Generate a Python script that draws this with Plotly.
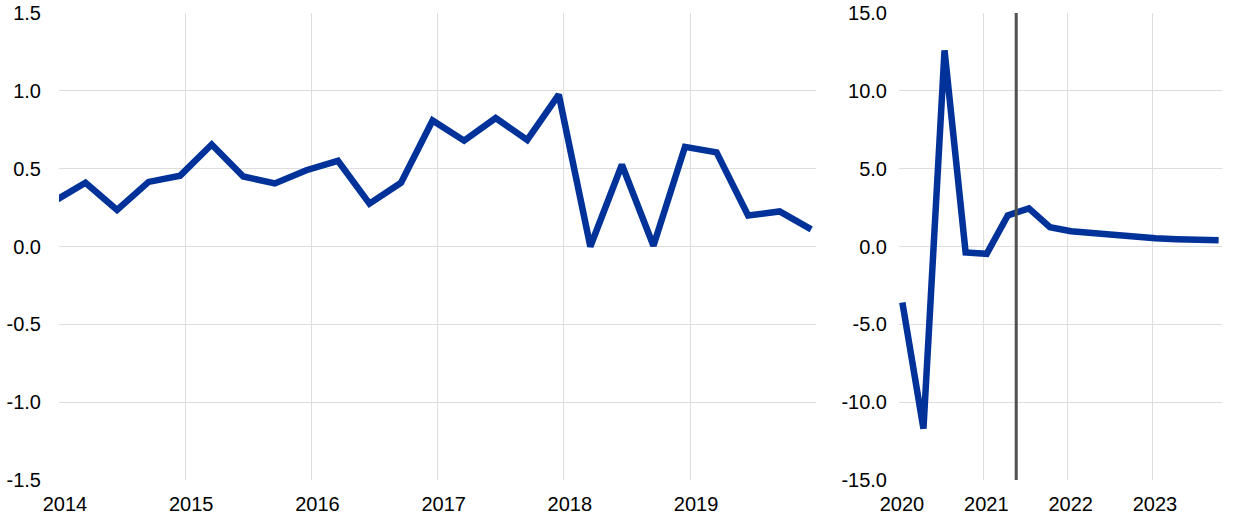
import plotly.graph_objects as go

# ---- data ----
left_values = [0.29, 0.41, 0.235, 0.415, 0.455, 0.655, 0.45, 0.405, 0.49, 0.55,
               0.275, 0.41, 0.81, 0.68, 0.825, 0.685, 0.975, 0.0, 0.525, 0.005,
               0.64, 0.605, 0.20, 0.225, 0.11]
left_start = 2013.96
right_values = [-3.6, -11.7, 12.6, -0.38, -0.47, 2.0, 2.45, 1.24, 0.98, 0.85,
                0.71, 0.58, 0.53, 0.47, 0.42, 0.40]
right_start = 2020.04
step = 0.25
left_years = [2014, 2015, 2016, 2017, 2018, 2019]
right_years = [2020, 2021, 2022, 2023]
left_yticks = [-1.5, -1.0, -0.5, 0.0, 0.5, 1.0, 1.5]
right_yticks = [-15, -10, -5, 0, 5, 10, 15]
vline_x = 2021.39

left_x = [left_start + i * step for i in range(len(left_values))]
right_x = [right_start + i * step for i in range(len(right_values))]

BLUE = "#003299"
GRID = "#dedede"
FONT = dict(family="Liberation Sans, Arial, sans-serif", size=20, color="#000000")

fig = go.Figure()
fig.add_trace(go.Scatter(x=left_x, y=left_values, mode="lines",
                         line=dict(color=BLUE, width=6.5), xaxis="x", yaxis="y",
                         showlegend=False))
fig.add_trace(go.Scatter(x=right_x, y=right_values, mode="lines",
                         line=dict(color=BLUE, width=6.5), xaxis="x2", yaxis="y2",
                         showlegend=False))
fig.add_trace(go.Scatter(x=[vline_x, vline_x], y=[-15, 15], mode="lines",
                         line=dict(color="#505050", width=3), xaxis="x2", yaxis="y2",
                         showlegend=False))

W, H = 1240, 522
ml, mr, mt, mb = 59, 18, 13, 42
pw = W - ml - mr
d1 = (816.25 - ml) / pw
d2 = (899 - ml) / pw

fig.update_layout(
    width=W, height=H,
    margin=dict(l=ml, r=mr, t=mt, b=mb),
    paper_bgcolor="white", plot_bgcolor="white",
    font=FONT,
    xaxis=dict(domain=[0, d1], range=[2014, 2020], tickvals=left_years,
               ticktext=[str(y) for y in left_years], showgrid=False,
               zeroline=False, showline=False, ticks="outside", ticklen=6,
               tickcolor="rgba(0,0,0,0)", ticklabelshift=6, automargin=False,
               minor=dict(tickvals=[2015, 2016, 2017, 2018, 2019, 2020],
                          showgrid=True, gridcolor=GRID, gridwidth=1, ticks="")),
    yaxis=dict(domain=[0, 1], range=[-1.5, 1.5], tickvals=left_yticks,
               ticktext=["%.1f" % v for v in left_yticks],
               showgrid=True, gridcolor=GRID, gridwidth=1,
               zeroline=False, showline=False, ticks="outside", ticklen=13,
               tickcolor="rgba(0,0,0,0)", automargin=False, anchor="x"),
    xaxis2=dict(domain=[d2, 1], range=[2020, 2023.83], tickvals=right_years,
                ticktext=[str(y) for y in right_years], showgrid=True,
                gridcolor=GRID, gridwidth=1, zeroline=False, showline=False,
                ticks="outside", ticklen=6, tickcolor="rgba(0,0,0,0)",
                ticklabelshift=3, automargin=False, anchor="y2",
                minor=dict(tickvals=[2023.83], showgrid=True, gridcolor=GRID,
                           gridwidth=1, ticks="")),
    yaxis2=dict(domain=[0, 1], range=[-15, 15], tickvals=right_yticks,
                ticktext=["%.1f" % v for v in right_yticks],
                showgrid=True, gridcolor=GRID, gridwidth=1,
                zeroline=False, showline=False, ticks="outside", ticklen=7,
                tickcolor="rgba(0,0,0,0)", automargin=False, anchor="x2"),
)

fig.write_html("out.html", config={"displayModeBar": False},
               post_script="document.body.style.margin='0';")
